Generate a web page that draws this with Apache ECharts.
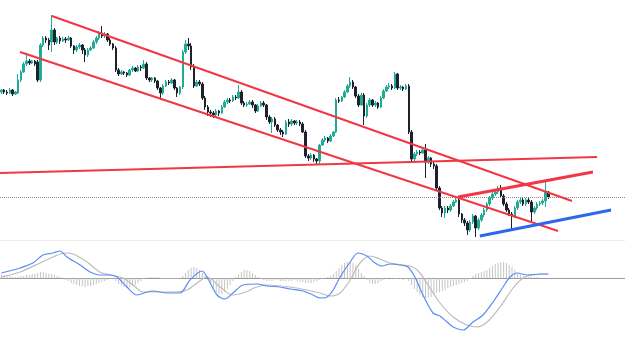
<!DOCTYPE html>
<html><head><meta charset="utf-8">
<script src="https://cdn.jsdelivr.net/npm/echarts@6/dist/echarts.min.js"></script>
<style>html,body{margin:0;padding:0;background:#fff}#c{width:625px;height:344px}</style>
</head><body><div id="c"></div>
<script>
const NCAT = 224;
const categories = Array.from({length: NCAT}, (_, i) => String(i + 1));

// [open, close, low, high]
const candles = [
[158,160,156,161],[160,158,156,161],[158,157,155,160],[157,160,156,162],[160,156,154,161],
[156,158,155,159],[157,170,156,176],[170,178,168,180],[178,186,177,188],[186,189,184,197],
[189,187,185,191],[187,189,186,190],[189,186,184,190],[188,170,168,190],[170,205,168,207],
[205,212,203,214],[212,210,207,214],[210,205,200,212],[208,220,198,235],[220,208,205,222],
[208,212,206,213],[212,209,206,214],[209,211,208,213],[211,210,207,213],[210,212,209,214],
[212,204,202,213],[204,200,196,205],[200,203,198,205],[203,205,201,207],[205,200,196,206],
[200,195,188,202],[195,200,193,202],[200,202,199,204],[202,208,201,210],[208,212,206,214],
[212,217,210,219],[217,214,212,224],[214,216,212,218],[216,210,208,217],[210,206,204,212],
[206,202,200,207],[202,180,178,204],[180,176,174,182],[176,178,175,180],[178,177,175,179],
[177,175,173,178],[175,180,174,181],[180,182,178,184],[182,179,178,183],[179,183,178,185],
[183,182,179,185],[182,186,181,190],[186,172,170,188],[172,170,168,173],[170,172,168,173],
[172,169,167,173],[169,162,160,170],[162,157,150,163],[157,164,155,166],[164,168,163,170],
[168,167,165,170],[167,170,166,172],[170,162,160,171],[162,157,153,163],[157,163,155,164],
[163,198,161,200],[198,206,196,210],[206,204,200,212],[204,183,180,207],[183,164,162,186],
[164,168,163,170],[168,166,164,170],[166,152,150,168],[152,143,140,154],[143,138,134,145],
[138,137,133,140],[137,135,132,139],[135,139,133,141],[139,137,134,140],[137,143,136,145],
[143,148,142,150],[148,150,146,152],[150,149,147,152],[149,153,148,155],[153,152,150,155],
[152,158,151,165],[158,147,145,160],[147,145,143,149],[145,146,143,148],[146,148,145,150],
[148,145,142,150],[145,139,137,146],[139,144,138,146],[144,147,143,149],[147,145,143,149],
[145,133,130,146],[133,128,126,135],[128,131,117,133],[131,125,123,133],[125,120,118,126],
[120,118,115,122],[118,116,113,120],[116,128,115,130],[128,126,123,131],[126,129,124,131],
[129,127,125,130],[127,128,125,130],[128,126,124,130],[126,118,117,128],[118,94,92,120],
[94,92,89,96],[92,95,90,97],[95,91,88,96],[91,89,86,92],[89,105,86,106],
[105,110,104,112],[110,112,108,114],[112,109,107,113],[109,114,108,116],[114,118,113,119],
[118,150,117,152],[150,149,147,153],[149,153,148,154],[153,158,152,160],[158,164,157,166],
[164,168,162,173],[168,163,161,170],[163,154,152,164],[154,145,143,156],[145,155,144,157],
[155,134,125,157],[134,145,132,147],[145,150,143,152],[150,145,143,151],[145,147,143,149],
[147,143,141,148],[143,152,142,154],[152,159,151,161],[159,163,158,165],[163,164,161,167],
[164,162,160,166],[162,176,161,178],[176,162,160,177],[162,163,160,165],[163,161,159,164],
[161,164,160,166],[164,118,116,166],[118,91,89,120],[91,96,89,98],[96,98,94,100],
[98,97,95,100],[97,100,96,103],[100,88,72,106],[88,92,86,94],[92,86,83,93],
[86,84,81,88],[84,62,60,86],[62,42,40,64],[42,37,33,44],[37,42,32,44],
[42,40,37,44],[40,44,38,46],[44,48,43,50],[48,50,47,53],[50,36,33,51],
[36,30,27,37],[30,27,24,32],[27,20,15,29],[20,28,18,30],[28,34,26,36],
[34,22,13,35],[22,30,20,32],[30,35,28,37],[35,40,33,42],[40,46,38,48],
[46,52,44,54],[52,56,50,58],[56,58,54,61],[58,62,56,64],[62,54,52,65],
[54,46,44,56],[46,40,38,48],[40,36,34,42],[36,34,20,38],[34,42,32,44],
[42,48,40,50],[48,50,46,52],[50,46,44,52],[46,50,44,52],[50,48,46,52],
[48,38,27,50],[38,42,36,44],[42,46,40,48],[46,47,44,49],[47,49,45,51],
[49,58,43,68],[58,53,51,59]
];

const histogram = [
3,3,2,2,1,1,1,2,2,3,
3,4,4,5,6,6,5,4,4,3,
2,1,0,-2,-3,-5,-6,-7,-8,-8,
-9,-8,-8,-7,-6,-5,-4,-3,-2,-1,
0,-3,-6,-8,-9,-10,-9,-8,-7,-5,
-3,-1,0,1,1,1,1,-1,-1,-1,
-1,-1,-1,-1,0,2,5,8,10,11,
10,8,5,2,-2,-6,-10,-14,-16,-16,
-14,-11,-7,-3,1,4,6,8,8,7,
5,3,1,-1,-2,-3,-3,-3,-2,-2,
-3,-3,-3,-3,-3,-2,-3,-4,-4,-5,
-5,-5,-4,-3,-2,-1,0,1,2,4,
7,10,13,15,16,16,15,13,9,5,
2,-2,-5,-6,-6,-5,-3,-2,-1,0,
0,-1,-1,-1,-2,-1,-3,-7,-11,-14,
-17,-19,-20,-20,-19,-17,-15,-14,-13,-12,
-10,-9,-8,-7,-6,-5,-4,-3,-1,2,
4,5,6,7,8,10,12,14,15,16,
16,15,13,11,8,5,3,2,1,1,
1,1,1,0,0,0,0
];

// [bar index, value]
const macdLine = [[0,5],[4.2,8],[6.7,10],[11.3,15],[14.9,23],[18.5,25],[21,27],[23.5,21],[28.2,13],[31.8,6],[35.3,3],[38.9,3],[41.4,1],[45,-9],[48.6,-17],[52.2,-14],[54.3,-13],[59.4,-15],[64,-15],[67.6,-2],[71.9,7],[73.7,1],[77.3,-17],[80.1,-21],[83,-15],[86.6,-7],[91.6,-6],[95.2,-8],[99.9,-9],[103.4,-11],[108.1,-13],[111.7,-17],[114.2,-20],[116.7,-19],[118.9,-12],[121.4,1],[125,16],[127.8,25],[131,22],[133.9,15],[136.4,12],[139.3,14],[142.9,13],[145.7,11],[148.2,1],[151.1,-17],[154.7,-35],[157.2,-38],[159.7,-44],[161.9,-49],[165.5,-52],[169,-44],[172.6,-37],[176.2,-24],[179.8,-9],[182.3,1],[184.8,5],[188.4,3],[193.1,4],[196,4]];
const signalLine = [[0,1],[6.7,6],[13.8,15],[18.5,21],[22.8,25],[25.7,24],[30.7,16],[35.3,6],[38.9,3],[43.6,0],[47.2,-7],[50.8,-14],[55.8,-14],[61.5,-14],[66.5,-12],[70.1,-5],[73.7,1],[78.4,-9],[83,-17],[86.6,-15],[91.6,-9],[95.2,-7],[103.4,-9],[109.5,-12],[114.2,-15],[117.8,-18],[121.4,-15],[125,-2],[128.5,15],[132.1,22],[135.7,19],[139.3,15],[144,13],[147.5,11],[150,5],[153.6,-10],[157.2,-25],[161.9,-39],[166.9,-47],[170.5,-49],[174.1,-44],[178.7,-29],[183.4,-10],[187,0],[190.5,3],[195.6,4],[196,4]];

// drawn trend lines: [bar index, price]
const channelUpper = [[18.1,234],[204.5,49]];
const channelLower = [[6.7,198],[199.5,19]];
const flatLine = [[-0.5,77],[213.5,93]];
const risingRed = [[163.7,53],[212,78]];
const risingBlue = [[171.5,14],[218.5,40]];

const upColor = '#22ab94', downColor = '#1e222d', red = '#f23645';
const lastClose = candles[candles.length - 1][1];

function trend(data, color, width, z) {
  return {type:'line', xAxisIndex:2, yAxisIndex:0, data, symbol:'none', silent:true,
    lineStyle:{color, width}, z};
}

const chart = echarts.init(document.getElementById('c'), null, {renderer:'canvas'});
chart.setOption({
  animation:false,
  grid:[{left:0,right:0,top:0,height:240},{left:0,right:0,top:240,height:104}],
  xAxis:[
    {type:'category',gridIndex:0,data:categories,position:'bottom',axisLabel:{show:false},axisTick:{show:false},
     axisLine:{show:true,lineStyle:{color:'#ececec'}},splitLine:{show:false}},
    {type:'category',gridIndex:1,data:categories,position:'bottom',axisLabel:{show:false},axisTick:{show:false},
     axisLine:{show:true,onZero:true,lineStyle:{color:'#9a9a9a'}},splitLine:{show:false}},
    {type:'value',gridIndex:0,min:-0.5,max:NCAT-0.5,show:false,position:'top'},
    {type:'value',gridIndex:1,min:-0.5,max:NCAT-0.5,show:false,position:'top'}
  ],
  yAxis:[
    {type:'value',gridIndex:0,min:10,max:250,show:false,splitLine:{show:false}},
    {type:'value',gridIndex:1,min:-66,max:38,show:false,splitLine:{show:false}}
  ],
  series:[
    {type:'candlestick',xAxisIndex:0,yAxisIndex:0,data:candles,barWidth:2,
     itemStyle:{color:upColor,color0:downColor,borderColor:upColor,borderColor0:downColor,borderWidth:1},
     markLine:{silent:true,symbol:'none',label:{show:false},
       lineStyle:{color:'#8a8a8a',type:'dotted',width:1},data:[{yAxis:lastClose}]}},
    trend(flatLine, red, 2, 5),
    trend(channelUpper, red, 2, 5),
    trend(channelLower, red, 2, 5),
    trend(risingRed, red, 3, 6),
    trend(risingBlue, '#2f66f0', 3, 6),
    {type:'bar',xAxisIndex:1,yAxisIndex:1,data:histogram,barWidth:1,itemStyle:{color:'#c4c4c4'},silent:true},
    {type:'line',xAxisIndex:3,yAxisIndex:1,data:signalLine,symbol:'none',smooth:0.3,
     lineStyle:{color:'#bcbcbc',width:1.2},z:3},
    {type:'line',xAxisIndex:3,yAxisIndex:1,data:macdLine,symbol:'none',smooth:0.3,
     lineStyle:{color:'#5b8cf5',width:1.2},z:4}
  ]
});
</script></body></html>
